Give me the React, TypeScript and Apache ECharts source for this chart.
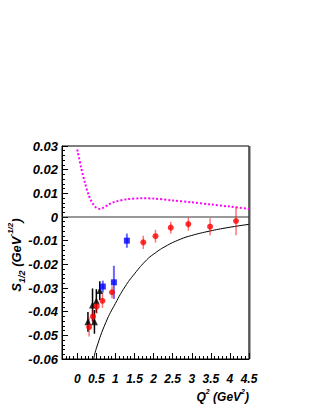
import React, { useEffect, useRef } from "react";
import * as echarts from "echarts";

// ---- data ----
const xTickLabels = [0, 0.5, 1, 1.5, 2, 2.5, 3, 3.5, 4, 4.5];
const yTickLabels = [-0.06, -0.05, -0.04, -0.03, -0.02, -0.01, 0, 0.01, 0.02, 0.03];

// red circles
const redQ2 = [0.31, 0.41, 0.51, 0.66, 0.91, 1.73, 2.05, 2.45, 2.91, 3.48, 4.16];
const redS = [-0.0465, -0.042, -0.0378, -0.0354, -0.0318, -0.0107, -0.0081, -0.0045, -0.003, -0.0041, -0.0017];
const redErr = [0.004, 0.003, 0.003, 0.003, 0.0025, 0.0028, 0.0027, 0.0025, 0.0028, 0.0036, 0.006];

// blue squares
const blueQ2 = [0.67, 0.96, 1.3];
const blueS = [-0.0294, -0.0276, -0.01];
const blueErr = [0.0025, 0.007, 0.003];

// black triangles
const blackQ2 = [0.28, 0.45, 0.4, 0.5, 0.59];
const blackS = [-0.0443, -0.0443, -0.0372, -0.0355, -0.0311];
const blackErr = [0.0042, 0.005, 0.007, 0.005, 0.004];

// solid black model curve
const modelQ2 = [0.43, 0.5, 0.75, 1.0, 1.25, 1.5, 1.82, 2.0, 2.3, 2.7, 3.0, 3.4, 3.9, 4.5];
const modelS = [-0.06, -0.0555, -0.0445, -0.0365, -0.0295, -0.024, -0.0181, -0.0157, -0.0125, -0.0094, -0.0078, -0.0062, -0.0046, -0.0031];

// magenta dotted model curve
const magQ2 = [0, 0.1, 0.2, 0.3, 0.4, 0.5, 0.6, 0.7, 0.85, 1.0, 1.3, 1.7, 2.0, 2.5, 3.0, 3.5, 4.0, 4.5];
const magS = [0.0285, 0.021, 0.0145, 0.0092, 0.0058, 0.0039, 0.0034, 0.0041, 0.0055, 0.0065, 0.0075, 0.0079, 0.0078, 0.007, 0.0062, 0.0053, 0.0044, 0.0034];

const X_MIN = -0.4;
const X_MAX = 4.5;

export default function App() {
  const ref = useRef<HTMLDivElement>(null);

  useEffect(() => {
    if (!ref.current) return;
    const chart = echarts.init(ref.current, null, { renderer: "svg" });

    const minorX: number[] = [];
    for (let i = 0; i <= 49; i++) minorX.push(Math.round((X_MIN + i * 0.1) * 10) / 10);

    const errData = (xs: number[], ys: number[], es: number[]) =>
      xs.map((x, i) => [x, ys[i] - es[i], ys[i] + es[i]]);

    const errSeries = (data: number[][], color: string, width: number) => ({
      type: "custom",
      xAxisIndex: 0,
      yAxisIndex: 0,
      z: 2,
      silent: true,
      encode: { x: 0, y: [1, 2] },
      data,
      renderItem: (params: any, api: any) => {
        const p1 = api.coord([api.value(0), api.value(1)]);
        const p2 = api.coord([api.value(0), api.value(2)]);
        return {
          type: "line",
          shape: { x1: p1[0], y1: p1[1], x2: p2[0], y2: p2[1] },
          style: { stroke: color, lineWidth: width },
        };
      },
    });

    const labelFont = {
      fontFamily: "Liberation Sans, Arial, sans-serif",
      fontWeight: "bold" as const,
      fontStyle: "italic" as const,
      color: "#000",
    };

    chart.setOption({
      animation: false,
      grid: {
        left: 62,
        right: 67,
        top: 146,
        bottom: 50,
        show: true,
        borderColor: "#000",
        borderWidth: 1,
        backgroundColor: "transparent",
      },
      xAxis: [
        {
          type: "value",
          min: X_MIN,
          max: X_MAX,
          position: "bottom",
          axisLine: { show: true, onZero: false, lineStyle: { color: "#000", width: 1 } },
          axisTick: {
            show: true,
            inside: true,
            length: 6,
            customValues: xTickLabels,
            lineStyle: { color: "#000" },
          },
          axisLabel: {
            ...labelFont,
            fontSize: 12,
            margin: 14,
            customValues: xTickLabels,
            formatter: (v: number) => String(v),
          },
          splitLine: { show: false },
        },
        {
          type: "value",
          min: X_MIN,
          max: X_MAX,
          position: "bottom",
          axisLine: { show: false, onZero: false },
          axisTick: {
            show: true,
            inside: true,
            length: 3,
            customValues: minorX,
            lineStyle: { color: "#000" },
          },
          axisLabel: { show: false },
          splitLine: { show: false },
        },
      ],
      yAxis: {
        type: "value",
        min: -0.06,
        max: 0.03,
        interval: 0.01,
        axisLine: { show: true, onZero: false, lineStyle: { color: "#000", width: 1 } },
        axisTick: { show: true, inside: true, length: 6, lineStyle: { color: "#000" } },
        minorTick: { show: true, splitNumber: 5, length: 3, lineStyle: { color: "#000" } },
        axisLabel: {
          ...labelFont,
          fontSize: 13,
          margin: 4,
          customValues: yTickLabels,
          formatter: (v: number) => (Math.abs(v) < 1e-9 ? "0" : v.toFixed(2)),
        },
        splitLine: { show: false },
      },
      graphic: [
        {
          type: "text",
          x: 16,
          y: 255,
          rotation: Math.PI / 2,
          style: {
            text: "{m|S}{sub|1/2}{m| (GeV}{sup|-1/2}{m|)}",
            textAlign: "center",
            textVerticalAlign: "middle",
            rich: {
              m: { ...labelFont, fontSize: 13, lineHeight: 20, verticalAlign: "middle" },
              sub: { ...labelFont, fontSize: 9, lineHeight: 20, verticalAlign: "bottom" },
              sup: { ...labelFont, fontSize: 8, lineHeight: 20, verticalAlign: "top" },
            },
          },
        },
        {
          type: "text",
          right: 67,
          top: 388,
          style: {
            text: "{m|Q}{sup|2}{m| (GeV}{sup|2}{m|)}",
            rich: {
              m: { ...labelFont, fontSize: 12, lineHeight: 18, verticalAlign: "middle" },
              sup: { ...labelFont, fontSize: 7, lineHeight: 18, verticalAlign: "top" },
            },
          },
        },
        {
          type: "line",
          shape: { x1: 249.5, y1: 146, x2: 249.5, y2: 359 },
          style: { stroke: "#555", lineWidth: 2 },
          silent: true,
        },
      ],
      series: [
        {
          type: "line",
          data: [
            [X_MIN, 0],
            [X_MAX, 0],
          ],
          symbol: "none",
          silent: true,
          lineStyle: { color: "#333", width: 1 },
          z: 1,
        },
        {
          type: "line",
          data: magQ2.map((x, i) => [x, magS[i]]),
          smooth: 0.3,
          symbol: "none",
          silent: true,
          lineStyle: { color: "#ff00ff", width: 2, type: [2, 2] },
          z: 1,
        },
        {
          type: "line",
          data: modelQ2.map((x, i) => [x, modelS[i]]),
          smooth: true,
          symbol: "none",
          silent: true,
          lineStyle: { color: "#000", width: 1 },
          z: 1,
        },
        errSeries(errData(blackQ2, blackS, blackErr), "#000", 1.5),
        errSeries(errData(blueQ2, blueS, blueErr), "rgba(40,40,255,0.7)", 2),
        errSeries(errData(redQ2, redS, redErr), "rgba(255,0,0,0.55)", 1.5),
        {
          type: "scatter",
          data: blackQ2.map((x, i) => [x, blackS[i]]),
          symbol: "triangle",
          symbolSize: 7,
          itemStyle: { color: "#000" },
          z: 3,
        },
        {
          type: "scatter",
          data: blueQ2.map((x, i) => [x, blueS[i]]),
          symbol: "rect",
          symbolSize: 6,
          itemStyle: { color: "#0000ff" },
          z: 3,
        },
        {
          type: "scatter",
          data: redQ2.map((x, i) => [x, redS[i]]),
          symbol: "circle",
          symbolSize: 6,
          itemStyle: { color: "#ff0000" },
          z: 4,
        },
      ],
    });

    return () => chart.dispose();
  }, []);

  return (
    <div
      ref={ref}
      style={{ position: "fixed", left: 0, top: 0, width: 316, height: 409, background: "#fff" }}
    />
  );
}
